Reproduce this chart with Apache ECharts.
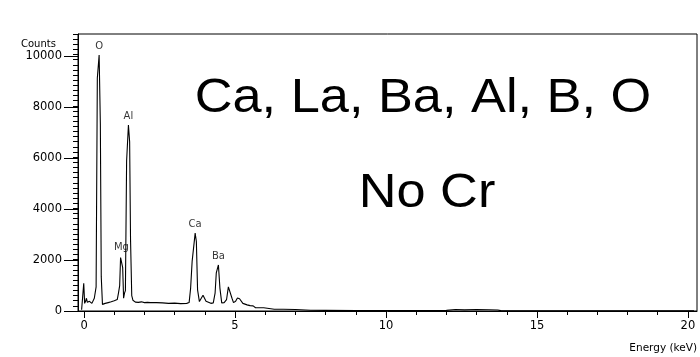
<!DOCTYPE html>
<html>
<head>
<meta charset="utf-8">
<script src="https://cdn.jsdelivr.net/npm/echarts@6/dist/echarts.min.js"></script>
<style>
html,body{margin:0;padding:0;background:#fff;}
#chart{width:700px;height:357px;}
</style>
</head>
<body>
<div id="chart"></div>
<script>
// Spectrum: energy (keV) and counts
var energy = [-0.08,-0.04,-0.01,0.02,0.05,0.08,0.11,0.14,0.18,0.22,0.26,0.30,0.34,0.38,0.40,0.44,0.50,0.54,0.57,0.61,0.66,0.70,0.75,0.80,0.85,0.90,0.95,1.00,1.05,1.10,1.14,1.18,1.21,1.25,1.28,1.31,1.34,1.37,1.41,1.47,1.51,1.54,1.58,1.62,1.66,1.70,1.80,1.90,2.00,2.10,2.20,2.40,2.60,2.80,3.00,3.20,3.40,3.48,3.53,3.58,3.64,3.68,3.72,3.76,3.82,3.88,3.94,3.99,4.04,4.10,4.20,4.28,4.34,4.38,4.45,4.50,4.56,4.64,4.72,4.78,4.84,4.90,4.95,5.02,5.08,5.15,5.20,5.26,5.32,5.40,5.50,5.60,5.68,5.80,5.95,6.00,6.30,6.60,7.00,7.50,8.00,9.00,10.00,11.00,12.00,12.30,12.60,13.00,13.40,13.70,13.80,15.00,20.20];
var counts = [50,120,1090,300,380,500,340,290,380,360,300,330,500,520,950,9150,10050,7350,1350,260,220,300,280,330,320,360,380,400,420,450,700,1000,2100,2150,1700,500,700,800,5900,7300,6650,2800,600,420,380,350,340,360,330,340,330,330,320,300,310,290,300,330,900,1950,2000,3060,2730,830,370,380,620,640,380,310,300,320,700,1500,1810,900,320,330,450,950,960,500,330,380,510,480,430,300,280,240,210,200,130,130,130,80,70,70,60,30,25,20,20,20,25,60,45,60,50,40,15,10,5];

// Peak labels
var peakNames = ['O','Al','Mg','Ca','Ba'];
var peakEnergy = [0.50,1.47,1.24,3.68,4.45];
var peakCounts = [10050,7300,2150,3060,1810];

// Axis ticks
var xMajorTicks = [0,5,10,15,20];
var xMinorTicks = [0,1,2,3,4,5,6,7,8,9,10,11,12,13,14,15,16,17,18,19,20];
var yMajorTicks = [0,2000,4000,6000,8000,10000];

var texts = ['Ca, La, Ba, Al, B, O','No Cr'];

var lineData = energy.map(function(e,i){return [e,counts[i]];});
var peakData = peakNames.map(function(n,i){return {name:n,value:[peakEnergy[i],peakCounts[i]]};});

var chart = echarts.init(document.getElementById('chart'),null,{renderer:'canvas'});
var axisFont = 'DejaVu Sans';
var gridBox = {left:78,right:3,top:34,bottom:46};
chart.setOption({
  animation:false,
  backgroundColor:'#fff',
  grid:[
    Object.assign({show:true,borderColor:'#000',borderWidth:1,containLabel:false},gridBox),
    Object.assign({show:false,containLabel:false},gridBox)
  ],
  xAxis:[{
    gridIndex:0,type:'value',min:-0.2,max:20.3,
    axisLine:{show:true,onZero:false,lineStyle:{color:'#000',width:1}},
    axisTick:{show:true,customValues:xMajorTicks,length:7,lineStyle:{color:'#000'}},
    axisLabel:{show:true,customValues:xMajorTicks,color:'#000',fontFamily:axisFont,fontSize:11.5,margin:9},
    splitLine:{show:false}
  },{
    gridIndex:1,type:'value',min:-0.2,max:20.3,position:'bottom',
    axisLine:{show:false,onZero:false},
    axisTick:{show:true,customValues:xMinorTicks,length:4,lineStyle:{color:'#000'}},
    axisLabel:{show:false},
    splitLine:{show:false}
  }],
  yAxis:[{
    gridIndex:0,type:'value',min:0,max:10880,
    axisLine:{show:true,onZero:false,lineStyle:{color:'#000',width:1}},
    axisTick:{show:true,customValues:yMajorTicks,length:14,lineStyle:{color:'#000'}},
    axisLabel:{show:true,customValues:yMajorTicks,color:'#000',fontFamily:axisFont,fontSize:11.5,margin:16,
      formatter:function(v){return String(v);}},
    splitLine:{show:false}
  },{
    gridIndex:1,type:'value',min:0,max:10800,interval:200,position:'left',
    axisLine:{show:false,onZero:false},
    axisTick:{show:true,length:5,lineStyle:{color:'#000'}},
    axisLabel:{show:false},
    splitLine:{show:false}
  }],
  graphic:[
    {type:'text',x:21,y:44,style:{text:'Counts',font:'10px DejaVu Sans',fill:'#000',verticalAlign:'middle'}},
    {type:'text',x:697,y:348,style:{text:'Energy (keV)',font:'10.5px DejaVu Sans',fill:'#000',align:'right',verticalAlign:'middle'}},
    {type:'text',x:423,y:99,scaleX:1.09,style:{text:texts[0],font:'48px "Liberation Sans"',fill:'#000',align:'center',verticalAlign:'middle'}},
    {type:'text',x:427,y:194,scaleX:1.09,style:{text:texts[1],font:'48px "Liberation Sans"',fill:'#000',align:'center',verticalAlign:'middle'}}
  ],
  series:[{
    type:'line',xAxisIndex:0,yAxisIndex:0,data:lineData,showSymbol:false,symbol:'none',
    lineStyle:{color:'#000',width:1.1},silent:true
  },{
    type:'scatter',xAxisIndex:0,yAxisIndex:0,data:peakData,symbolSize:0,silent:true,
    label:{show:true,position:'top',distance:4,formatter:'{b}',color:'#000',fontFamily:axisFont,fontSize:10}
  }]
});
</script>
</body>
</html>
